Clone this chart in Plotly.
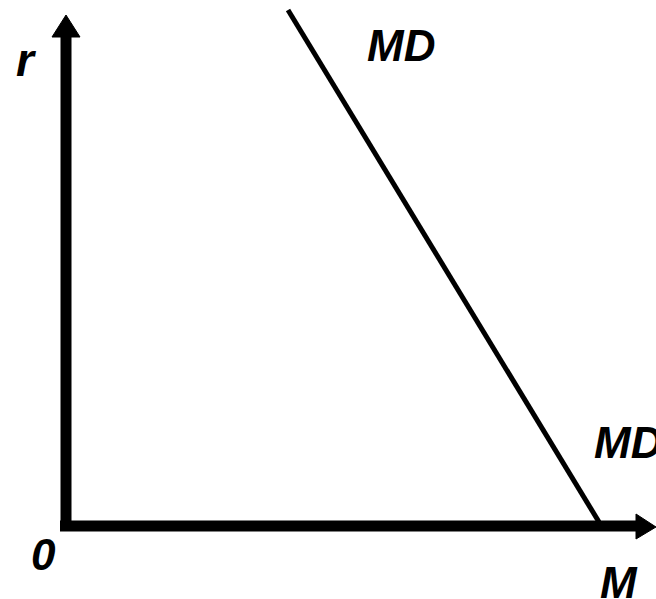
import plotly.graph_objects as go

# Money demand curve (conceptual units)
md_m = [2.22, 5.33]
md_r = [5.16, 0.04]

# Labels
axis_labels = ["r", "M", "0"]
curve_label = "MD"

fig = go.Figure()
fig.add_trace(go.Scatter(x=md_m, y=md_r, mode="lines",
                         line=dict(color="black", width=5), hoverinfo="skip",
                         showlegend=False))

# axes drawn as thick arrows
fig.add_shape(type="line", x0=0, y0=-0.05, x1=0, y1=4.92, line=dict(color="black", width=11))
fig.add_shape(type="line", x0=-0.06, y0=0, x1=5.72, y1=0, line=dict(color="black", width=11))
fig.add_shape(type="path", path="M -0.14 4.89 L 0.14 4.89 L 0 5.11 Z",
              fillcolor="black", line=dict(color="black", width=1))
fig.add_shape(type="path", path="M 5.70 0.12 L 5.70 -0.13 L 5.90 -0.01 Z",
              fillcolor="black", line=dict(color="black", width=1))

font = dict(family="Liberation Sans, Arial", size=44, color="black", weight="bold", style="italic")

def lab(text, x, y, xanchor="center", size=44):
    f = dict(font)
    f["size"] = size
    fig.add_annotation(x=x, y=y, text=text, showarrow=False, xanchor=xanchor,
                       yanchor="middle", font=f)

lab(axis_labels[0], -0.40, 4.66, size=46)
lab(axis_labels[1], 5.53, -0.56)
lab(axis_labels[2], -0.23, -0.28)
lab(curve_label, 3.35, 4.81)
lab(curve_label, 5.26, 0.84, xanchor="left")

fig.update_layout(
    width=656, height=599,
    margin=dict(l=0, r=0, t=0, b=0),
    paper_bgcolor="white", plot_bgcolor="white",
    xaxis=dict(range=[-0.66, 5.90], visible=False, fixedrange=True),
    yaxis=dict(range=[-0.73, 5.26], visible=False, fixedrange=True),
)
fig.write_html("out.html", config={"displayModeBar": False},
               post_script="document.body.style.margin='0';document.body.style.overflow='hidden';")
